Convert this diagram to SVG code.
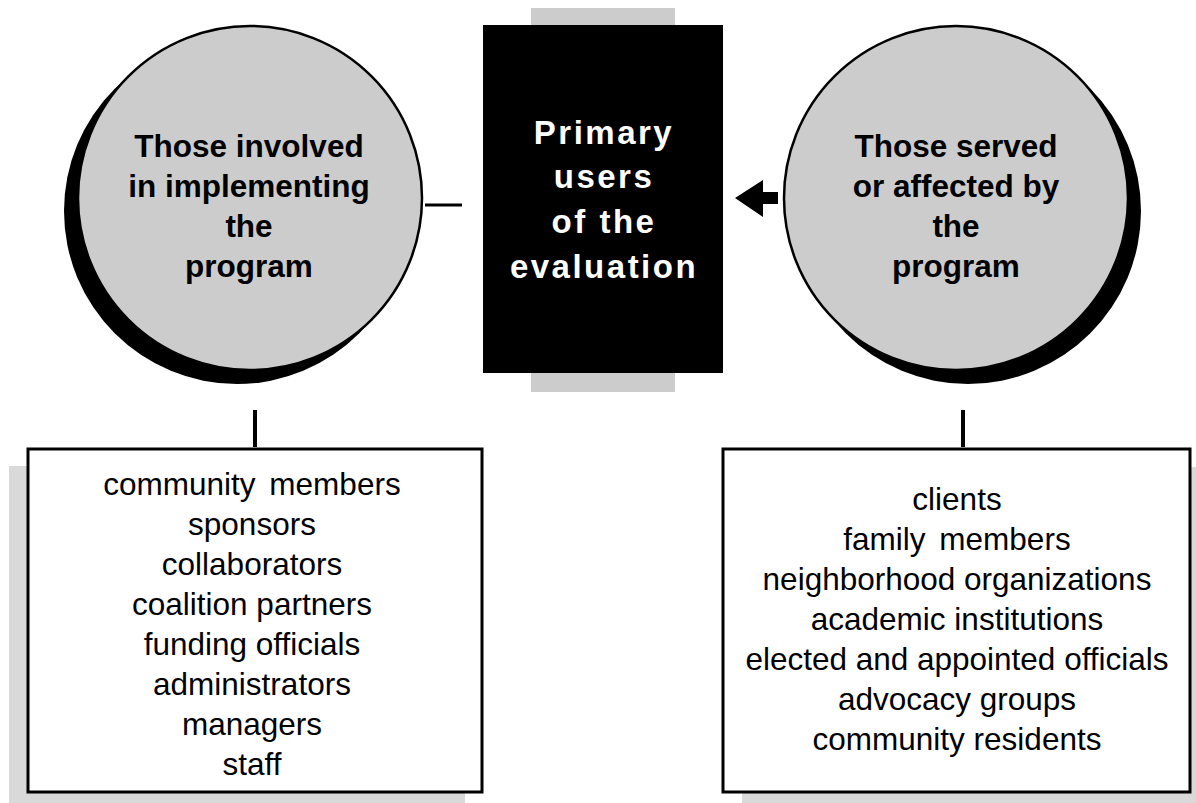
<svg xmlns="http://www.w3.org/2000/svg" width="1196" height="803" viewBox="0 0 1196 803">
<style>
.circ{fill:#cccccc;stroke:#000;stroke-width:2.5}
.shadow{fill:#000}
.boxshadow{fill:#d9d9d9}
.box{fill:#fff;stroke:#000;stroke-width:3}
.bold{font-family:"Liberation Sans",Arial,sans-serif;font-weight:bold;font-size:31.5px;text-anchor:middle;fill:#000}
.white{font-family:"Liberation Sans",Arial,sans-serif;font-weight:bold;font-size:33px;letter-spacing:2.5px;text-anchor:middle;fill:#fff}
.list{font-family:"Liberation Sans",Arial,sans-serif;font-size:31.5px;text-anchor:middle;fill:#000}
.conn{stroke:#000;fill:none}
</style>
<rect width="1196" height="803" fill="#fff"/>
<g id="primary-users">
<rect x="531" y="8" width="144" height="384" fill="#cccccc"/>
<rect x="483" y="25" width="240" height="348" fill="#000"/>
<text class="white" x="604" y="144">Primary</text>
<text class="white" x="604" y="188">users</text>
<text class="white" x="604" y="233">of the</text>
<text class="white" x="604" y="278">evaluation</text>
</g>
<g id="implementers">
<circle class="shadow" cx="237" cy="211" r="173"/>
<circle class="circ" cx="250" cy="198" r="172"/>
<text class="bold" x="249" y="157">Those involved</text>
<text class="bold" x="249" y="197">in implementing</text>
<text class="bold" x="249" y="237">the</text>
<text class="bold" x="249" y="277">program</text>
</g>
<g id="served">
<circle class="shadow" cx="968" cy="211" r="173"/>
<circle class="circ" cx="956" cy="198" r="172"/>
<text class="bold" x="956" y="157">Those served</text>
<text class="bold" x="956" y="197">or affected by</text>
<text class="bold" x="956" y="237">the</text>
<text class="bold" x="956" y="277">program</text>
</g>
<g id="implementers-list">
<rect class="boxshadow" x="9" y="466" width="456" height="337"/>
<rect class="box" x="28" y="449" width="454" height="343"/>
<text class="list" x="252" y="495" word-spacing="5">community members</text>
<text class="list" x="252" y="535">sponsors</text>
<text class="list" x="252" y="575">collaborators</text>
<text class="list" x="252" y="615">coalition partners</text>
<text class="list" x="252" y="655">funding officials</text>
<text class="list" x="252" y="695">administrators</text>
<text class="list" x="252" y="735">managers</text>
<text class="list" x="252" y="775">staff</text>
</g>
<g id="served-list">
<rect class="boxshadow" x="742" y="467" width="454" height="336"/>
<rect class="box" x="723" y="449" width="467" height="343"/>
<text class="list" x="957" y="510">clients</text>
<text class="list" x="957" y="550" word-spacing="5">family members</text>
<text class="list" x="957" y="590">neighborhood organizations</text>
<text class="list" x="957" y="630">academic institutions</text>
<text class="list" x="957" y="670">elected and appointed officials</text>
<text class="list" x="957" y="710">advocacy groups</text>
<text class="list" x="957" y="750">community residents</text>
</g>
<g id="connectors">
<line class="conn" x1="425" y1="205" x2="462" y2="205" stroke-width="3"/>
<polygon points="735,198 763,180 763,192 778,192 778,204 763,204 763,217" fill="#000"/>
<line class="conn" x1="255" y1="410" x2="255" y2="447" stroke-width="4"/>
<line class="conn" x1="963" y1="410" x2="963" y2="447" stroke-width="4"/>
</g>
</svg>
